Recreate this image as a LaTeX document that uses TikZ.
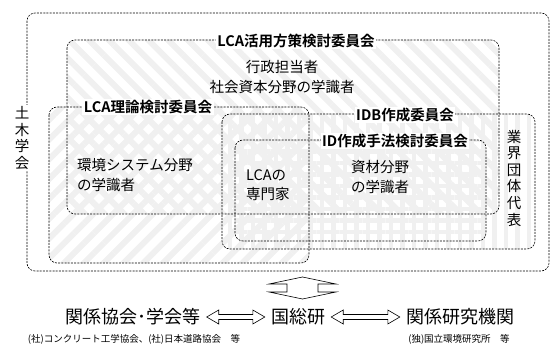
\documentclass[tikz,border=0pt]{standalone}
\usepackage{fontspec}
\setmainfont{Noto Sans CJK JP}[BoldFont={Noto Sans CJK JP Bold}]
\usetikzlibrary{patterns.meta,calc}
\begin{document}
\begin{tikzpicture}[x=1pt,y=-1pt,
  box/.style={draw=black, line width=0.6pt, dash pattern=on 2pt off 1.2pt, rounded corners=8pt},
  ttl/.style={font=\bfseries\fontsize{14.5}{18}\selectfont, fill=white, inner sep=1.5pt},
  txt/.style={font=\fontsize{14.5}{19.5}\selectfont, inner sep=0pt},
  vtxt/.style={font=\fontsize{14.5}{16.6}\selectfont, inner sep=1pt, align=center},
  big/.style={font=\fontsize{18}{22}\selectfont, inner sep=0pt},
  small/.style={font=\fontsize{9.5}{12}\selectfont, inner sep=0pt},
  dstripe/.style={pattern={Lines[angle=#1,distance=14pt,line width=6pt]}, pattern color=black!6},
  ostripe/.style={pattern={Lines[angle=#1,distance=11.5pt,line width=4.5pt]}, pattern color=black!6},
  arr/.style={draw=black, fill=white, line width=0.6pt, line join=miter}
]
\useasboundingbox (0,0) rectangle (551,347);

% pattern fills
\fill[dstripe=-45, rounded corners=8pt] (67,40) rectangle (499,214);
\fill[dstripe=45, rounded corners=8pt] (49,107) rectangle (309,263);
\fill[ostripe=90, rounded corners=8pt] (222,114) rectangle (535,249);
\fill[ostripe=0, rounded corners=8pt] (235,140) rectangle (486,241);

% borders
\draw[box] (27,13) rectangle (549,271);
\draw[box] (67,40) rectangle (499,214);
\draw[box] (49,107) rectangle (309,263);
\draw[box] (222,114) rectangle (535,249);
\draw[box] (235,140) rectangle (486,241);

% titles
\node[ttl] (t1) at (296,41) {LCA活用方策検討委員会};
\node[ttl] (t2) at (148,107) {LCA理論検討委員会};
\node[ttl] (t3) at (405,115) {IDB作成委員会};
\node[ttl] (t4) at (395,141) {ID作成手法検討委員会};

% members
\node[txt, align=center] (m1) at (282,77) {行政担当者\\社会資本分野の学識者};
\node[txt, align=left, anchor=west] (m2) at (77,175) {環境システム分野\\の学識者};
\node[txt, align=left, anchor=west] (m3) at (246,185) {LCAの\\専門家};
\node[txt, align=left, anchor=west] (m4) at (351,177) {資材分野\\の学識者};
\node[vtxt] (m5) at (514,178) {業\\界\\団\\体\\代\\表};
\node[vtxt, fill=white] (m6) at (22,138) {土\\木\\学\\会};

% vertical double arrow
\coordinate (va) at (302.5,288);
\draw[arr, shift={(va)}] (0,-11) -- (33.5,-4) -- (15.5,-4) -- (15.5,4) -- (33.5,4)
  -- (0,11) -- (-33.5,4) -- (-15.5,4) -- (-15.5,-4) -- (-33.5,-4) -- cycle;

% bottom row
\node[big] (b1) at (133,317) {関係協会･学会等};
\node[big] (b2) at (298,317) {国総研};
\node[big] (b3) at (460,317) {関係研究機関};
\node[small] (s1) at (134,339) {(社)コンクリート工学協会、(社)日本道路協会　等};
\node[small] (s3) at (459,339) {(独)国立環境研究所　等};

\path (b1.east) ++(6,0) coordinate (h1l);
\path (b2.west) ++(-6,0) coordinate (h1r);
\path (b2.east) ++(6,0) coordinate (h2l);
\path (b3.west) ++(-6,0) coordinate (h2r);
\draw[arr] (h1l) -- ++(12,-7) -- ++(0,4.5) -- ($(h1r)+(-12,-2.5)$) -- ++(0,-4.5) -- (h1r)
  -- ++(-12,7) -- ++(0,-4.5) -- ($(h1l)+(12,2.5)$) -- ++(0,4.5) -- cycle;
\draw[arr] (h2l) -- ++(12,-7) -- ++(0,4.5) -- ($(h2r)+(-12,-2.5)$) -- ++(0,-4.5) -- (h2r)
  -- ++(-12,7) -- ++(0,-4.5) -- ($(h2l)+(12,2.5)$) -- ++(0,4.5) -- cycle;
\end{tikzpicture}
\end{document}
